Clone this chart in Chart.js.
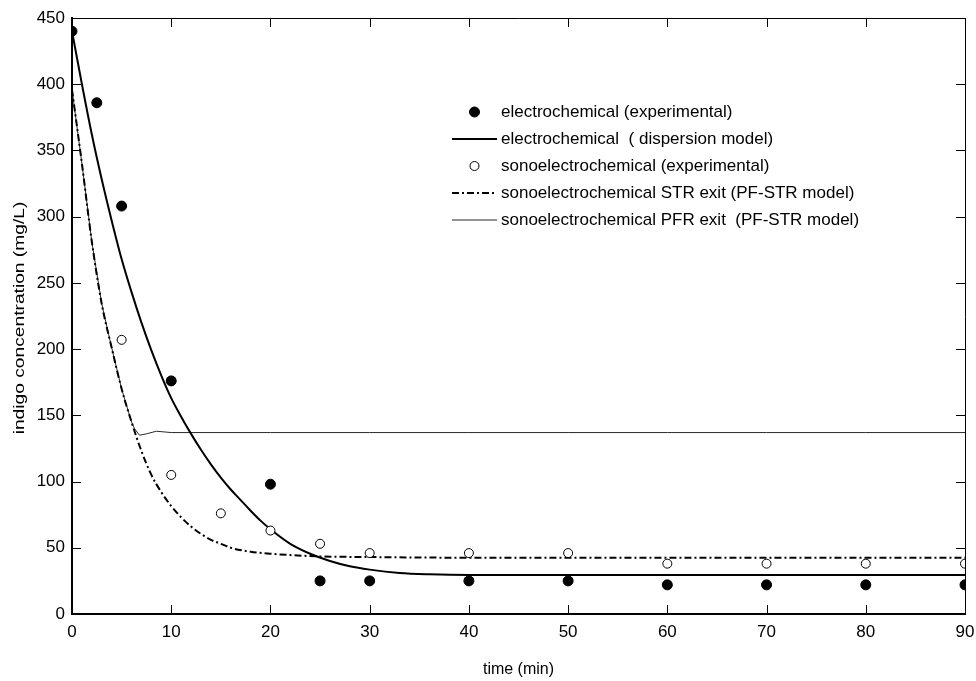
<!DOCTYPE html>
<html>
<head>
<meta charset="utf-8">
<script src="https://cdn.jsdelivr.net/npm/chart.js@4.4.1/dist/chart.umd.min.js"></script>
<style>
  html, body { margin: 0; padding: 0; background: #fff; }
  canvas { display: block; }
</style>
</head>
<body>
<canvas id="indigoChart" width="976" height="681"></canvas>
<script>
/******** data *****************************/
// experimental points
const electroTime = [0, 2.5, 5, 10, 20, 25, 30, 40, 50, 60, 70, 80, 90];
const electroExp = [440, 386, 308, 176, 98, 25, 25, 25, 25, 22, 22, 22, 22];

const sonoTime = [5, 10, 15, 20, 25, 30, 40, 50, 60, 70, 80, 90];
const sonoExp = [207, 105, 76, 63, 53, 46, 46, 46, 38, 38, 38, 38];

// model curves
const dispersionTime = [0, 1, 2, 3, 4, 5, 6, 7, 8, 9, 10, 11, 12, 13, 14, 15, 16, 17, 18, 19, 20, 22, 24, 26, 28, 30, 33, 36, 40, 50, 60, 70, 80, 90];
const dispersionVal = [440, 400, 362, 328, 297, 268, 243, 220, 199, 180, 163, 149, 136, 124, 113, 103, 94, 86, 78, 70.5, 64, 53, 45.5, 40, 36, 33.5, 31, 30, 29.5, 29.5, 29.5, 29.5, 29.5, 29.5];

const strTime = [0, 1, 2, 3, 4, 5, 6, 7, 8, 9, 10, 11, 12, 13, 14, 15, 16, 18, 20, 22, 25, 30, 40, 50, 60, 70, 80, 90];
const strVal = [396, 340, 281, 234, 201, 170, 145, 123, 105, 92, 81.5, 73, 66, 60.5, 56, 53, 50, 47, 45.5, 44.5, 43.5, 43, 42.5, 42.5, 42.5, 42.5, 42.5, 42.5];

const pfrTime = [0, 1, 2, 3, 4, 5, 6, 6.3, 6.8, 7.5, 8.5, 10, 20, 30, 40, 50, 60, 70, 80, 90];
const pfrVal = [396, 340, 281, 234, 201, 170, 145, 140, 135, 136, 138, 137, 137, 137, 137, 137, 137, 137, 137, 137];

// axes
const xTicks = [0, 10, 20, 30, 40, 50, 60, 70, 80, 90];
const yTicks = [0, 50, 100, 150, 200, 250, 300, 350, 400, 450];
const yTitle = "indigo concentration (mg/L)";

const toPoints = (xs, ys) => xs.map((x, i) => ({ x: x, y: ys[i] }));

const FONT = "'Liberation Sans', Arial, sans-serif";

/******** frame: box, inward ticks, y title, legend *********/
const framePlugin = {
    id: "frame",
    afterDraw(chart) {
        const ctx = chart.ctx;
        const a = chart.chartArea;
        const xs = chart.scales.x;
        const ys = chart.scales.y;
        ctx.save();
        ctx.strokeStyle = "#000";
        // top and right of box
        ctx.lineWidth = 1;
        ctx.beginPath();
        ctx.moveTo(a.left, a.top + 0.5);
        ctx.lineTo(a.right + 0.5, a.top + 0.5);
        ctx.lineTo(a.right + 0.5, a.bottom);
        ctx.stroke();
        // ticks pointing in
        const len = 9;
        ctx.beginPath();
        xTicks.forEach((v) => {
            const px = Math.round(xs.getPixelForValue(v)) + 0.5;
            ctx.moveTo(px, a.bottom);
            ctx.lineTo(px, a.bottom - len);
            ctx.moveTo(px, a.top);
            ctx.lineTo(px, a.top + len);
        });
        yTicks.forEach((v) => {
            const py = Math.round(ys.getPixelForValue(v)) + 0.5;
            ctx.moveTo(a.left, py);
            ctx.lineTo(a.left + len, py);
            ctx.moveTo(a.right, py);
            ctx.lineTo(a.right - len, py);
        });
        ctx.stroke();

        // y title, stretched along the axis like the original
        ctx.save();
        ctx.translate(20, (a.top + a.bottom) / 2 + 2);
        ctx.rotate(-Math.PI / 2);
        ctx.scale(1.28, 1);
        ctx.font = "15px " + FONT;
        ctx.fillStyle = "#000";
        ctx.textAlign = "center";
        ctx.textBaseline = "middle";
        ctx.fillText(yTitle, 0, 0);
        ctx.restore();

        // legend, no box
        const rows = [112, 139, 166, 193, 220];
        const lineX0 = 452, lineX1 = 497, textX = 501;
        ctx.font = "17px " + FONT;
        ctx.textBaseline = "middle";
        ctx.fillStyle = "#000";
        chart.data.datasets.forEach((ds, i) => {
            const y = rows[i];
            if (ds.showLine) {
                ctx.save();
                ctx.strokeStyle = ds.borderColor;
                ctx.lineWidth = ds.borderWidth;
                ctx.setLineDash(ds.borderDash || []);
                ctx.beginPath();
                ctx.moveTo(lineX0, y);
                ctx.lineTo(lineX1, y);
                ctx.stroke();
                ctx.restore();
            } else {
                ctx.beginPath();
                ctx.arc((lineX0 + lineX1) / 2, y, ds.pointRadius, 0, Math.PI * 2);
                ctx.fillStyle = ds.pointBackgroundColor;
                ctx.fill();
                ctx.lineWidth = ds.pointBorderWidth;
                ctx.strokeStyle = ds.pointBorderColor;
                ctx.stroke();
                ctx.fillStyle = "#000";
            }
            ctx.fillText(ds.label, textX, y);
        });
        ctx.restore();
    },
};

const ctx = document.getElementById("indigoChart").getContext("2d");
const indigoChart = new Chart(ctx, {
    type: "scatter",
    data: {
        datasets: [
            {
                label: "electrochemical (experimental)",
                data: toPoints(electroTime, electroExp),
                showLine: false,
                pointRadius: 5,
                pointBackgroundColor: "#000",
                pointBorderColor: "#000",
                pointBorderWidth: 1,
                order: 0,
            },
            {
                label: "electrochemical  ( dispersion model)",
                data: toPoints(dispersionTime, dispersionVal),
                showLine: true,
                borderColor: "#000",
                borderWidth: 2,
                pointRadius: 0,
                cubicInterpolationMode: "monotone",
                order: 2,
            },
            {
                label: "sonoelectrochemical (experimental)",
                data: toPoints(sonoTime, sonoExp),
                showLine: false,
                pointRadius: 4.5,
                pointBackgroundColor: "#fff",
                pointBorderColor: "#000",
                pointBorderWidth: 1,
                order: 1,
            },
            {
                label: "sonoelectrochemical STR exit (PF-STR model)",
                data: toPoints(strTime, strVal),
                showLine: true,
                borderColor: "#000",
                borderWidth: 2,
                borderDash: [7, 3, 2, 3],
                pointRadius: 0,
                cubicInterpolationMode: "monotone",
                order: 3,
            },
            {
                label: "sonoelectrochemical PFR exit  (PF-STR model)",
                data: toPoints(pfrTime, pfrVal),
                showLine: true,
                borderColor: "#2a2a2a",
                borderWidth: 1,
                pointRadius: 0,
                order: 4,
            },
        ],
    },
    options: {
        responsive: false,
        animation: false,
        layout: {
            padding: { top: 18, right: 11, left: 0, bottom: 0 },
        },
        plugins: {
            legend: { display: false },
            tooltip: { enabled: false },
        },
        scales: {
            x: {
                type: "linear",
                min: 0,
                max: 90,
                afterFit: (scale) => {
                    scale.height = 67;
                    scale.paddingLeft = 0;
                    scale.paddingRight = 0;
                },
                afterBuildTicks: (scale) => { scale.ticks = xTicks.map((v) => ({ value: v })); },
                grid: { display: false, drawTicks: false },
                border: { display: true, color: "#000", width: 2 },
                ticks: {
                    color: "#000",
                    padding: 8,
                    font: { family: FONT, size: 17 },
                },
                title: {
                    display: true,
                    text: "time (min)",
                    color: "#000",
                    font: { family: FONT, size: 16 },
                    padding: { top: 0, bottom: 2 },
                },
            },
            y: {
                type: "linear",
                min: 0,
                max: 450,
                afterFit: (scale) => {
                    scale.width = 72;
                    scale.paddingTop = 0;
                    scale.paddingBottom = 0;
                },
                afterBuildTicks: (scale) => { scale.ticks = yTicks.map((v) => ({ value: v })); },
                grid: { display: false, drawTicks: false },
                border: { display: true, color: "#000", width: 2 },
                ticks: {
                    color: "#000",
                    padding: 7,
                    font: { family: FONT, size: 17 },
                },
            },
        },
    },
    plugins: [framePlugin],
});
</script>
</body>
</html>
